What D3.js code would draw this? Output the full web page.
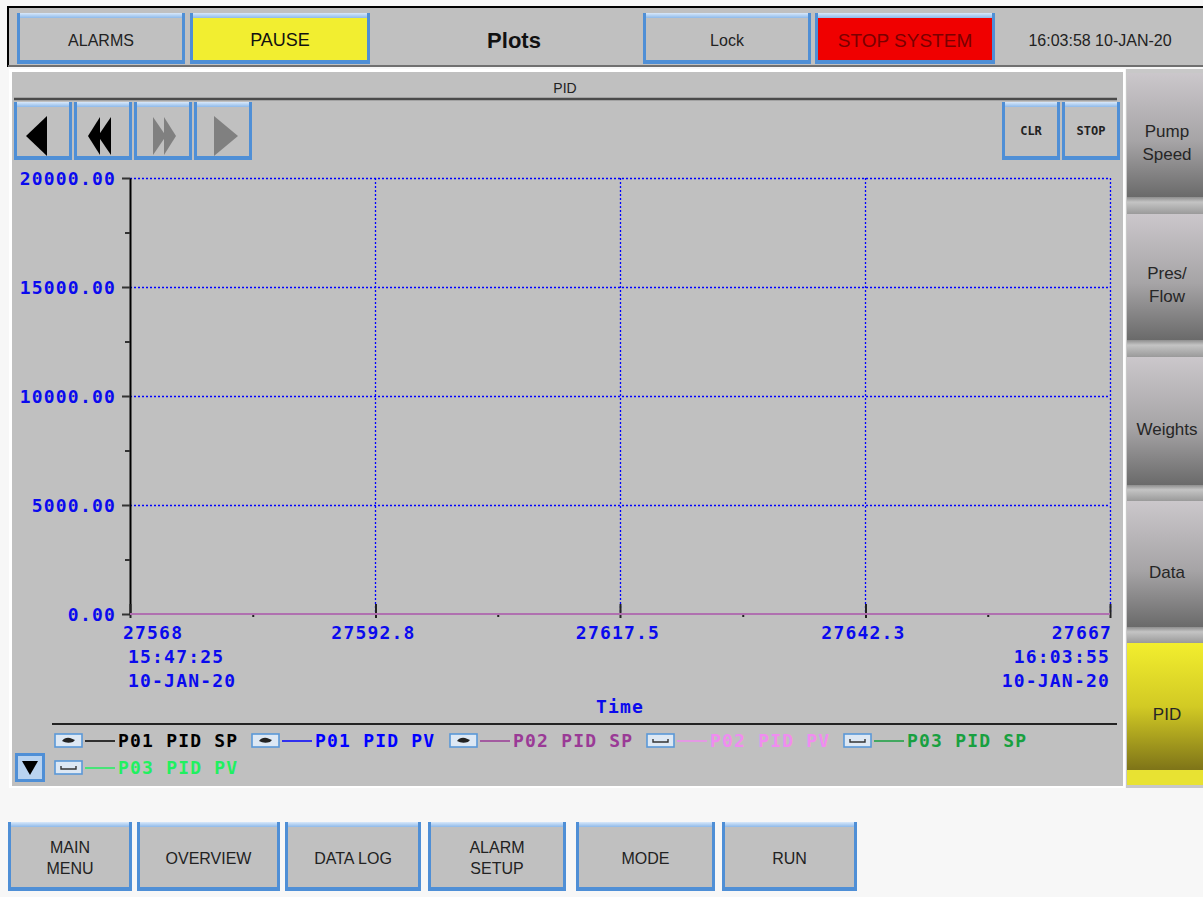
<!DOCTYPE html>
<html>
<head>
<meta charset="utf-8">
<script src="https://cdn.jsdelivr.net/npm/d3@7"></script>
<style>
  html, body { margin: 0; padding: 0; background: #f7f7f7; }
  svg { display: block; }
  .mono { font-family: "DejaVu Sans Mono", monospace; font-weight: bold; }
  .ui { font-family: "Liberation Sans", Arial, sans-serif; }
</style>
</head>
<body>
<svg id="chart" width="1203" height="897"></svg>
<script>
// ---------------- DATA ----------------
const chartTitle = "PID";
const screenTitle = "Plots";
const clockText = "16:03:58 10-JAN-20";
const xDomain = [27568, 27667];
const yDomain = [0, 20000];
const xTickValues = [27568, 27592.8, 27617.5, 27642.3, 27667];
const xTickLabels = ["27568", "27592.8", "27617.5", "27642.3", "27667"];
const xMinorTicks = [27580.4, 27605.15, 27629.9, 27654.65];
const yTickValues = [0, 5000, 10000, 15000, 20000];
const yMinorTicks = [2500, 7500, 12500, 17500];
const startTimeLabel = ["15:47:25", "10-JAN-20"];
const endTimeLabel = ["16:03:55", "10-JAN-20"];
const xAxisTitle = "Time";
const sampleTimes = [27568, 27592.8, 27617.5, 27642.3, 27667];
const p01SP = [0, 0, 0, 0, 0];
const p01PV = [0, 0, 0, 0, 0];
const p02SP = [0, 0, 0, 0, 0];
const p02PV = [0, 0, 0, 0, 0];
const p03SP = [0, 0, 0, 0, 0];
const p03PV = [0, 0, 0, 0, 0];
const seriesNames = ["P01 PID SP", "P01 PID PV", "P02 PID SP", "P02 PID PV", "P03 PID SP", "P03 PID PV"];
const seriesVisible = [true, true, true, false, false, false];
const topButtons = ["ALARMS", "PAUSE", "Lock", "STOP SYSTEM"];
const sideButtons = [["Pump", "Speed"], ["Pres/", "Flow"], ["Weights"], ["Data"], ["PID"]];
const bottomButtons = [["MAIN", "MENU"], ["OVERVIEW"], ["DATA LOG"], ["ALARM", "SETUP"], ["MODE"], ["RUN"]];

// ---------------- STYLE ----------------
const seriesColors = ["#000000", "#0000ff", "#9a3a96", "#f08cf0", "#18a040", "#20f060"];
const seriesLineColors = ["#000000", "#0000ff", "#b070b0", "#f08cf0", "#18a040", "#20f060"];
const seriesData = [p01SP, p01PV, p02SP, p02PV, p03SP, p03PV];

const svg = d3.select("#chart");
const defs = svg.append("defs");

function vgrad(id, stops) {
  const g = defs.append("linearGradient").attr("id", id).attr("x1", 0).attr("y1", 0).attr("x2", 0).attr("y2", 1);
  stops.forEach(s => g.append("stop").attr("offset", s[0]).attr("stop-color", s[1]));
}
vgrad("sideGray", [[0, "#cbc7cb"], [0.55, "#a6a4a6"], [1, "#6a6a6a"]]);
vgrad("sideYellow", [[0, "#f2ee2e"], [0.5, "#d2ca24"], [1, "#7e7418"]]);
vgrad("sepGray", [[0, "#8e8e8e"], [0.3, "#c4c4c4"], [1, "#9a9a9a"]]);
vgrad("topEdge", [[0, "#d8e8fa"], [1, "#7fb0e6"]]);

svg.append("rect").attr("width", 1203).attr("height", 897).attr("fill", "#f7f7f7");

function hmiButton(g, x, y, w, h, fill) {
  g.append("rect").attr("x", x).attr("y", y).attr("width", w).attr("height", h).attr("fill", "#4f8fd6");
  g.append("rect").attr("x", x + 3).attr("y", y).attr("width", w - 6).attr("height", 6).attr("fill", "url(#topEdge)");
  g.append("rect").attr("x", x + 3).attr("y", y + 5).attr("width", w - 6).attr("height", h - 9).attr("fill", fill);
}
function label(g, cx, cy, lines, size, color, cls, weight) {
  const lh = size * 1.3;
  lines.forEach((t, i) => {
    g.append("text").attr("class", cls || "ui")
      .attr("x", cx).attr("y", cy + (i - (lines.length - 1) / 2) * lh)
      .attr("text-anchor", "middle").attr("dominant-baseline", "central")
      .attr("font-size", size).attr("font-weight", weight || "normal")
      .attr("fill", color).text(t);
  });
}

// ---------------- top bar ----------------
const topBar = svg.append("g");
topBar.append("rect").attr("x", 8).attr("y", 7).attr("width", 1200).attr("height", 59)
  .attr("fill", "#c0c0c0").attr("stroke", "#000").attr("stroke-width", 2);
topBar.append("line").attr("x1", 8).attr("x2", 1203).attr("y1", 66).attr("y2", 66).attr("stroke", "#707070").attr("stroke-width", 2);
const topBtnGeom = [[17, 168, "#c0c0c0", "#222", 16], [190, 180, "#f2ee30", "#111", 18], [643, 168, "#c0c0c0", "#222", 16], [815, 180, "#f00000", "#7a0000", 19]];
topButtons.forEach((t, i) => {
  const [bx, w, fill, col, fs] = topBtnGeom[i];
  hmiButton(topBar, bx, 13, w, 51, fill);
  label(topBar, bx + w / 2, 40, [t], fs, col);
});
label(topBar, 514, 40, [screenTitle], 22, "#111", "ui", "bold");
label(topBar, 1100, 40, [clockText], 16, "#222");

// ---------------- main panel ----------------
const panel = svg.append("g");
panel.append("rect").attr("x", 9).attr("y", 69).attr("width", 1116).attr("height", 719).attr("fill", "#ffffff");
panel.append("rect").attr("x", 12).attr("y", 72).attr("width", 1111).attr("height", 714).attr("fill", "#c0c0c0");
label(panel, 565, 88, [chartTitle], 14, "#222");
panel.append("line").attr("x1", 14).attr("x2", 1117).attr("y1", 99).attr("y2", 99).attr("stroke", "#4a4a4a").attr("stroke-width", 2.5);

const navX = [14, 74, 134, 194];
navX.forEach(nx => hmiButton(panel, nx, 102, 58, 58, "#c0c0c0"));
panel.append("polygon").attr("points", "26,136 47,116 47,156").attr("fill", "#000");
panel.append("polygon").attr("points", "88,136 100,117 100,155").attr("fill", "#000");
panel.append("polygon").attr("points", "98,136 111,117 111,155").attr("fill", "#000");
panel.append("polygon").attr("points", "176,136 164,117 164,155").attr("fill", "#808080");
panel.append("polygon").attr("points", "166,136 153,117 153,155").attr("fill", "#808080");
panel.append("polygon").attr("points", "238,136 214,116 214,156").attr("fill", "#808080");
hmiButton(panel, 1002, 102, 58, 58, "#c0c0c0");
hmiButton(panel, 1062, 102, 58, 58, "#c0c0c0");
label(panel, 1031, 131, ["CLR"], 12, "#222", "mono");
label(panel, 1091, 131, ["STOP"], 12, "#222", "mono");

// ---------------- plot ----------------
const plotL = 130, plotR = 1110, plotT = 178, plotB = 614;
const x = d3.scaleLinear().domain(xDomain).range([plotL, plotR]);
const y = d3.scaleLinear().domain(yDomain).range([plotB, plotT]);
const plot = svg.append("g");
const monoSize = 18, monoLS = 1.2;

plot.append("g").selectAll("line").data(yTickValues.filter(d => d > 0)).join("line")
  .attr("x1", plotL).attr("x2", plotR).attr("y1", d => Math.round(y(d)) + 0.5).attr("y2", d => Math.round(y(d)) + 0.5)
  .attr("stroke", "#0000ff").attr("stroke-width", 1.3).attr("stroke-dasharray", "2,2");
plot.append("g").selectAll("line").data(xTickValues.slice(1)).join("line")
  .attr("x1", d => Math.round(x(d)) + 0.5).attr("x2", d => Math.round(x(d)) + 0.5).attr("y1", plotT).attr("y2", plotB)
  .attr("stroke", "#0000ff").attr("stroke-width", 1.3).attr("stroke-dasharray", "2,2");

const yAxis = plot.append("g").attr("transform", `translate(${plotL},0)`)
  .call(d3.axisLeft(y).tickValues(yTickValues).tickFormat(d3.format(".2f")).tickSize(8).tickSizeOuter(0).tickPadding(6));
yAxis.select(".domain").attr("stroke", "#000").attr("stroke-width", 2);
yAxis.selectAll(".tick line").attr("stroke", "#333").attr("stroke-width", 2);
yAxis.selectAll(".tick text").attr("class", "mono").attr("font-size", monoSize)
  .attr("letter-spacing", monoLS).attr("fill", "#0a0aee").attr("dy", "0.35em");
const yMinor = plot.append("g").attr("transform", `translate(${plotL},0)`)
  .call(d3.axisLeft(y).tickValues(yMinorTicks).tickFormat("").tickSize(5).tickSizeOuter(0));
yMinor.select(".domain").remove();
yMinor.selectAll(".tick line").attr("stroke", "#333").attr("stroke-width", 2);

const xAxis = plot.append("g").attr("transform", `translate(0,${plotB})`)
  .call(d3.axisBottom(x).tickValues(xTickValues).tickFormat("").tickSize(4).tickSizeOuter(0));
xAxis.select(".domain").attr("stroke", "#8a5a8a").attr("stroke-width", 1);
xAxis.selectAll(".tick line").attr("stroke", "#222").attr("stroke-width", 2).attr("y1", -10);
const xMinor = plot.append("g").attr("transform", `translate(0,${plotB})`)
  .call(d3.axisBottom(x).tickValues(xMinorTicks).tickFormat("").tickSize(3).tickSizeOuter(0));
xMinor.select(".domain").remove();
xMinor.selectAll(".tick line").attr("stroke", "#222").attr("stroke-width", 2);

const xl = plot.append("g").attr("class", "mono").attr("font-size", monoSize).attr("letter-spacing", monoLS).attr("fill", "#0a0aee");
xTickValues.forEach((v, i) => {
  const anchor = i === 0 ? "start" : (i === xTickValues.length - 1 ? "end" : "middle");
  const dx = i === 0 ? -7 : (i === xTickValues.length - 1 ? 2 : -2);
  xl.append("text").attr("x", x(v) + dx).attr("y", 633).attr("dy", "0.35em")
    .attr("text-anchor", anchor).text(xTickLabels[i]);
});
startTimeLabel.forEach((t, i) => xl.append("text").attr("x", x(xDomain[0]) - 2).attr("y", 657 + i * 24).attr("dy", "0.35em").attr("text-anchor", "start").text(t));
endTimeLabel.forEach((t, i) => xl.append("text").attr("x", x(xDomain[1])).attr("y", 657 + i * 24).attr("dy", "0.35em").attr("text-anchor", "end").text(t));
xl.append("text").attr("x", 620).attr("y", 707).attr("dy", "0.35em").attr("text-anchor", "middle").text(xAxisTitle);

const line = d3.line().x((d, i) => x(sampleTimes[i])).y(d => y(d));
seriesData.forEach((vals, i) => {
  if (!seriesVisible[i]) return;
  plot.append("path").datum(vals).attr("d", line).attr("fill", "none")
    .attr("stroke", seriesLineColors[i]).attr("stroke-width", 2.2);
});

// ---------------- legend ----------------
const leg = svg.append("g");
leg.append("line").attr("x1", 52).attr("x2", 1117).attr("y1", 724).attr("y2", 724).attr("stroke", "#222").attr("stroke-width", 2);
const legPos = [[55, 741], [252, 741], [450, 741], [647, 741], [844, 741], [55, 768]];
seriesNames.forEach((name, i) => {
  const [lx, ly] = legPos[i];
  leg.append("rect").attr("x", lx).attr("y", ly - 7).attr("width", 27).attr("height", 13)
    .attr("fill", "#dde8f4").attr("stroke", "#5a98d8").attr("stroke-width", 1.6);
  if (seriesVisible[i]) {
    leg.append("path").attr("d", `M${lx + 7},${ly} q3,-4 8,-3 l5,2 l-2,2 q-6,2 -11,-1 z`).attr("fill", "#222");
  } else {
    leg.append("path").attr("d", `M${lx + 6},${ly - 2} v3 h15 v-3`).attr("fill", "none").attr("stroke", "#333").attr("stroke-width", 1.4);
  }
  leg.append("line").attr("x1", lx + 30).attr("x2", lx + 60).attr("y1", ly).attr("y2", ly)
    .attr("stroke", seriesColors[i]).attr("stroke-width", 1.5);
  leg.append("text").attr("class", "mono").attr("font-size", monoSize).attr("letter-spacing", monoLS)
    .attr("x", lx + 63).attr("y", ly).attr("dy", "0.35em").attr("fill", seriesColors[i]).text(name);
});
leg.append("rect").attr("x", 15).attr("y", 753).attr("width", 30).attr("height", 29).attr("fill", "#4f8fd6");
leg.append("rect").attr("x", 18).attr("y", 756).attr("width", 24).attr("height", 23).attr("fill", "#b9d3f0");
leg.append("polygon").attr("points", "22,761 38,761 30,775").attr("fill", "#000");

// ---------------- side panel ----------------
const side = svg.append("g");
side.append("rect").attr("x", 1126).attr("y", 69).attr("width", 77).attr("height", 719).attr("fill", "#c8c8c8");
const sideY = [[73, 197], [214, 340], [357, 485], [501, 627], [643, 770]];
sideY.forEach(([a, b], i) => {
  if (i > 0) side.append("rect").attr("x", 1127).attr("y", sideY[i - 1][1]).attr("width", 76).attr("height", a - sideY[i - 1][1]).attr("fill", "url(#sepGray)");
  const isSel = i === sideButtons.length - 1;
  side.append("rect").attr("x", 1127).attr("y", a).attr("width", 76).attr("height", b - a)
    .attr("fill", isSel ? "url(#sideYellow)" : "url(#sideGray)");
  label(side, 1167, (a + b) / 2 + 8, sideButtons[i], 17, "#262626");
});
side.append("rect").attr("x", 1127).attr("y", 770).attr("width", 76).attr("height", 15).attr("fill", "#e8e232");

// ---------------- bottom buttons ----------------
const bot = svg.append("g");
const botGeom = [[8, 124], [137, 143], [285, 136], [428, 138], [576, 139], [722, 135]];
bottomButtons.forEach((lines, i) => {
  const [bx, bw] = botGeom[i];
  hmiButton(bot, bx, 822, bw, 69, "#c0c0c0");
  label(bot, bx + bw / 2, 858, lines, 16, "#222");
});
</script>
</body>
</html>
